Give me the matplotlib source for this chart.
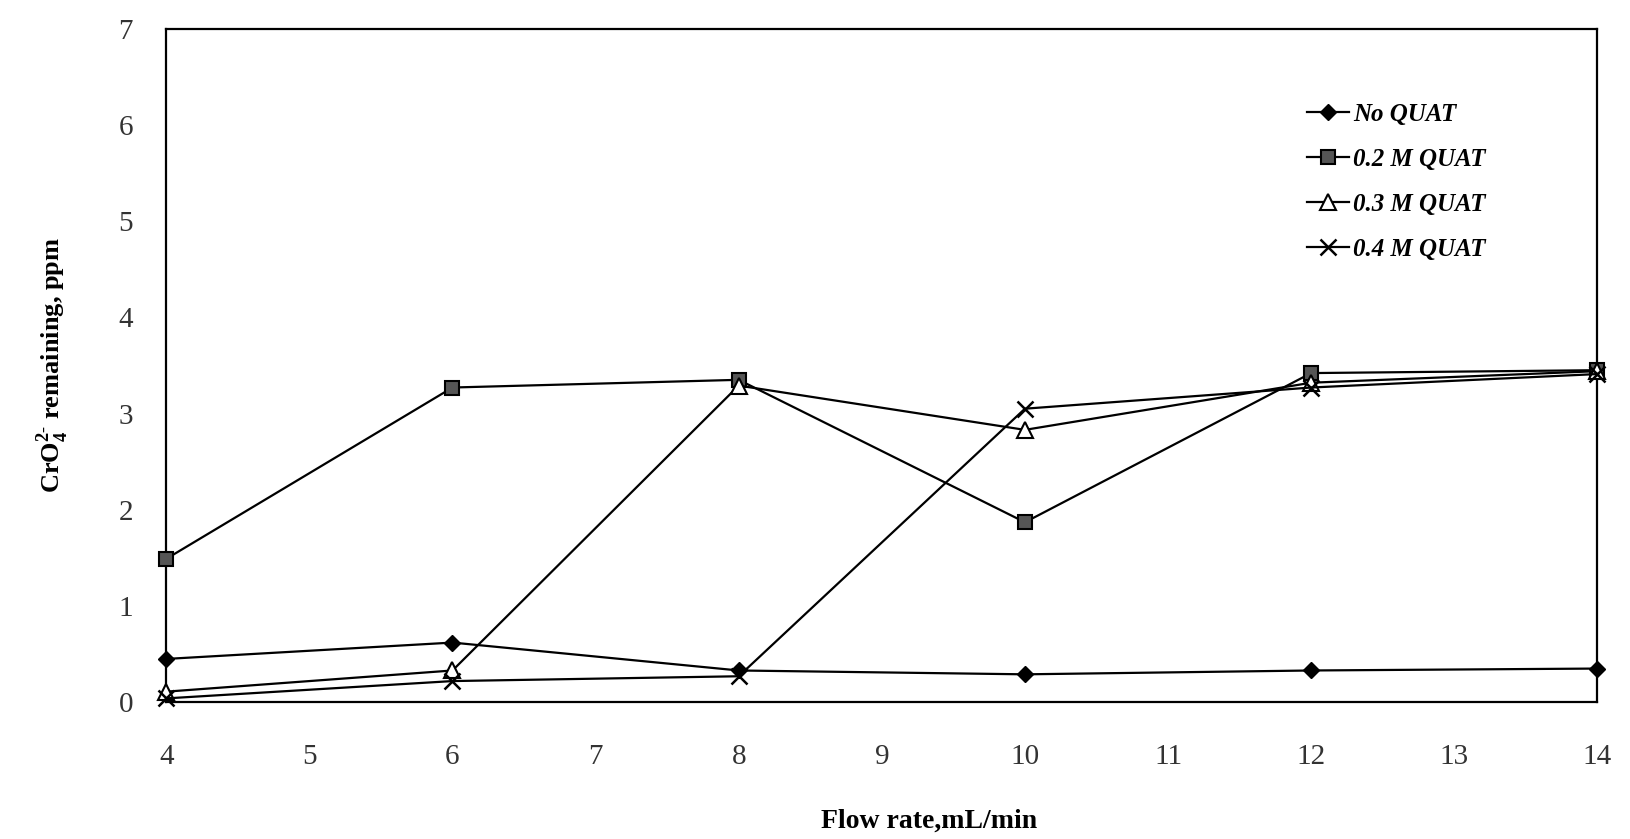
import matplotlib
matplotlib.use('Agg')
import matplotlib.pyplot as plt

plt.rcParams['font.family'] = ['Liberation Serif', 'DejaVu Serif']
plt.rcParams['mathtext.fontset'] = 'custom'
plt.rcParams['mathtext.rm'] = 'Liberation Serif'
plt.rcParams['mathtext.bf'] = 'Liberation Serif:bold'

# flow rate, mL/min
flow = [4, 6, 8, 10, 12, 14]

# CrO4 2- remaining, ppm
no_quat = [0.45, 0.62, 0.33, 0.29, 0.33, 0.35]
quat_02 = [1.49, 3.27, 3.35, 1.87, 3.42, 3.45]
quat_03 = [0.11, 0.33, 3.29, 2.83, 3.32, 3.44]
quat_04 = [0.04, 0.22, 0.27, 3.05, 3.27, 3.41]

labels = ['No QUAT', '0.2 M QUAT', '0.3 M QUAT', '0.4 M QUAT']

fig = plt.figure(figsize=(16.3, 8.39), dpi=100)
ax = fig.add_axes([0.102, 0.163, 0.878, 0.803])

lw = 1.6
ax.plot(flow, no_quat, color='black', lw=lw, marker='D', ms=8,
        mfc='black', mec='black', label=labels[0], clip_on=False, zorder=3)
ax.plot(flow, quat_02, color='black', lw=lw, marker='s', ms=10,
        mfc='#555555', mec='black', mew=1.5, label=labels[1], clip_on=False, zorder=3)
ax.plot(flow, quat_03, color='black', lw=lw, marker='^', ms=11,
        mfc='white', mec='black', mew=1.5, label=labels[2], clip_on=False, zorder=3)
ax.plot(flow, quat_04, color='black', lw=lw, marker='x', ms=11,
        mec='black', mew=1.8, label=labels[3], clip_on=False, zorder=3)

ax.set_xlim(4, 14)
ax.set_ylim(0, 7)
ax.set_xticks(range(4, 15))
ax.set_yticks(range(0, 8))
ax.tick_params(length=0, labelsize=21, colors='#333333')
ax.tick_params(axis='x', pad=30)
ax.tick_params(axis='y', pad=24)
for s in ax.spines.values():
    s.set_linewidth(1.6)

ax.set_xlabel('Flow rate,mL/min', fontsize=20, fontweight='bold')
ax.xaxis.set_label_coords(0.533, -0.158)
ax.set_ylabel(r'CrO$_\mathbf{4}^{\mathbf{2\text{-}}}$ remaining, ppm', fontsize=19,
              fontweight='bold', labelpad=34)

leg = ax.legend(loc='upper left', bbox_to_anchor=(0.797, 0.890), frameon=False,
                prop={'size': 18, 'style': 'italic', 'weight': 'bold'},
                borderpad=0, borderaxespad=0,
                handlelength=1.7, handletextpad=0.15, labelspacing=0.88)

fig.savefig('out.png', dpi=100)
